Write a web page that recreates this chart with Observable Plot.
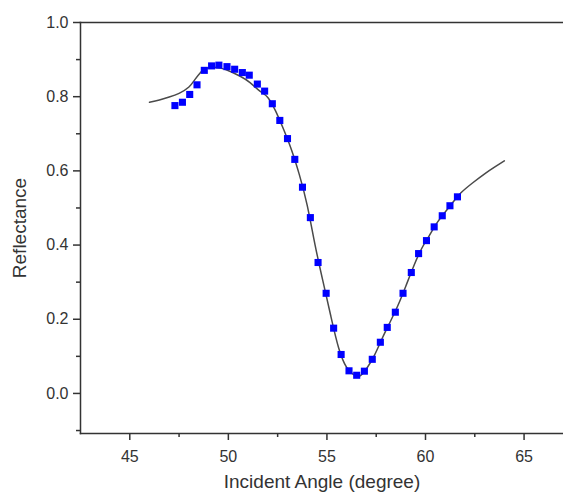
<!DOCTYPE html>
<html>
<head>
<meta charset="utf-8">
<script src="https://cdn.jsdelivr.net/npm/d3@7"></script>
<script src="https://cdn.jsdelivr.net/npm/@observablehq/plot@0.6"></script>
<style>
  html, body { margin: 0; padding: 0; background: #fff; }
  #chart { width: 563px; height: 493px; overflow: hidden; }
</style>
</head>
<body>
<div id="chart"></div>
<script>
// Measured reflectance (squares)
const measAngle = [47.29, 47.67, 48.04, 48.41, 48.78, 49.15, 49.52, 49.93, 50.32, 50.71,
  51.06, 51.47, 51.84, 52.23, 52.61, 53.00, 53.37, 53.76, 54.16, 54.55,
  54.96, 55.34, 55.72, 56.12, 56.51, 56.90, 57.30, 57.71, 58.06, 58.47,
  58.86, 59.28, 59.65, 60.05, 60.44, 60.85, 61.24, 61.62];
const measRefl = [0.776, 0.785, 0.806, 0.832, 0.871, 0.883, 0.885, 0.881, 0.874, 0.865,
  0.858, 0.834, 0.815, 0.781, 0.736, 0.687, 0.631, 0.556, 0.474, 0.353,
  0.270, 0.176, 0.105, 0.061, 0.049, 0.060, 0.092, 0.138, 0.178, 0.219,
  0.270, 0.326, 0.377, 0.412, 0.449, 0.479, 0.506, 0.530];

// Fitted curve (line)
const fitAngle = [46.0, 46.5, 47.0, 47.5, 48.0, 48.3, 48.6, 48.8, 49.1, 49.6,
  50.1, 50.6, 51.1, 51.6, 52.0, 52.4, 52.8, 53.2, 53.6, 54.0,
  54.4, 54.8, 55.2, 55.6, 56.0, 56.3, 56.5, 56.7, 57.0, 57.4,
  57.8, 58.2, 58.6, 59.0, 59.4, 59.8, 60.2, 60.6, 61.0, 61.4,
  61.8, 62.4, 63.0, 63.5, 64.0];
const fitRefl = [0.785, 0.791, 0.799, 0.809, 0.826, 0.846, 0.866, 0.875, 0.879, 0.877,
  0.868, 0.855, 0.838, 0.815, 0.798, 0.761, 0.712, 0.657, 0.590, 0.507,
  0.400, 0.302, 0.208, 0.122, 0.070, 0.053, 0.046, 0.048, 0.066, 0.102,
  0.148, 0.192, 0.237, 0.289, 0.343, 0.390, 0.426, 0.461, 0.489, 0.516,
  0.541, 0.568, 0.592, 0.610, 0.627];

// Ticks
const xMajor = [45, 50, 55, 60, 65];
const xMinor = [47.5, 52.5, 57.5, 62.5];
const yMajor = [0.0, 0.2, 0.4, 0.6, 0.8, 1.0];
const yMinor = [-0.1, 0.1, 0.3, 0.5, 0.7, 0.9];

const meas = measAngle.map((a, i) => ({angle: a, r: measRefl[i]}));
const fit = fitAngle.map((a, i) => ({angle: a, r: fitRefl[i]}));

const axisColor = "#333";
const chart = Plot.plot({
  width: 563,
  height: 493,
  marginLeft: 80,
  marginRight: 0,
  marginTop: 22,
  marginBottom: 60,
  style: {fontFamily: "'Liberation Sans', Arial, sans-serif", color: axisColor, background: "#fff"},
  x: {domain: [42.5, 67]},
  y: {domain: [-0.108, 1.0]},
  marks: [
    Plot.frame({anchor: "top", stroke: axisColor, strokeWidth: 1.5}),
    Plot.frame({anchor: "left", stroke: axisColor, strokeWidth: 1.5}),
    Plot.frame({anchor: "bottom", stroke: axisColor, strokeWidth: 1.5}),
    Plot.axisX({ticks: xMajor, tickSize: 7, tickPadding: 10, tickFormat: d => String(d),
      fontSize: 16, strokeWidth: 1.5, label: "Incident Angle (degree)", labelAnchor: "center",
      labelArrow: "none", labelOffset: 54}),
    Plot.axisX({ticks: xMinor, tickSize: 4, tickFormat: () => "", strokeWidth: 1.5, label: null}),
    Plot.axisY({ticks: yMajor, tickSize: 7, tickPadding: 5, tickFormat: d3.format(".1f"),
      fontSize: 16, strokeWidth: 1.5, label: "Reflectance", labelAnchor: "center",
      labelArrow: "none", labelOffset: 68}),
    Plot.axisY({ticks: yMinor, tickSize: 4, tickFormat: () => "", strokeWidth: 1.5, label: null}),
    Plot.line(fit, {x: "angle", y: "r", stroke: "#4a4a4a", strokeWidth: 1.5, curve: "natural"}),
    Plot.dot(meas, {x: "angle", y: "r", symbol: "square", r: 4, fill: "#0000ff", stroke: "none"})
  ]
});
// axis title font size
chart.querySelectorAll("g[aria-label='x-axis label'] text, g[aria-label='y-axis label'] text").forEach(t => t.setAttribute("font-size", 19));
document.getElementById("chart").appendChild(chart);
</script>
</body>
</html>
